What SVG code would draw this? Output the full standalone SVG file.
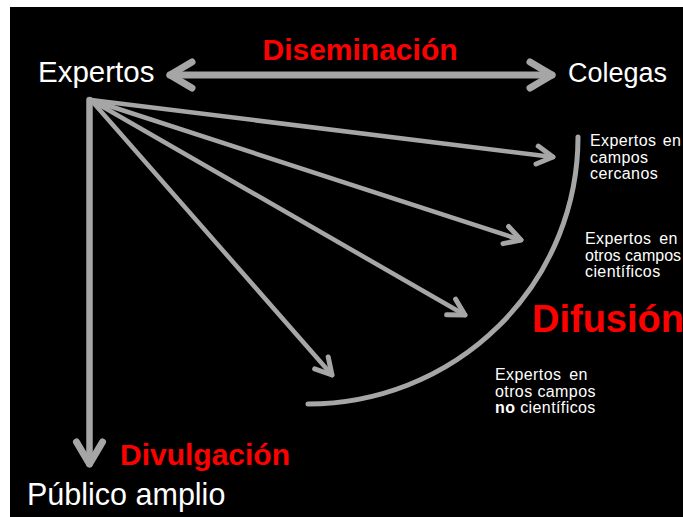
<svg xmlns="http://www.w3.org/2000/svg" width="683" height="517" viewBox="0 0 683 517">
<style>
.w{fill:#ffffff;font-family:"Liberation Sans",Arial,sans-serif}
.r{fill:#ff0000;font-family:"Liberation Sans",Arial,sans-serif;font-weight:bold}
.s{font-size:16px;letter-spacing:0.4px}
.ln{stroke:#a6a6a6;fill:none;stroke-linecap:round}
</style>
<defs>
<marker id="big" markerUnits="userSpaceOnUse" viewBox="-30 -20 40 40" markerWidth="40" markerHeight="40" refX="0" refY="0" orient="auto-start-reverse" overflow="visible">
<path d="M-22,-13 L0,0 L-22,13" fill="none" stroke="#a6a6a6" stroke-width="7" stroke-linecap="round" stroke-linejoin="round"/>
</marker>
<marker id="sm" markerUnits="userSpaceOnUse" viewBox="-30 -20 40 40" markerWidth="40" markerHeight="40" refX="0" refY="0" orient="auto" overflow="visible">
<path d="M-16,-9 L0,0 L-16,9" fill="none" stroke="#a6a6a6" stroke-width="5" stroke-linecap="round" stroke-linejoin="round"/>
</marker>
</defs>
<rect x="0" y="0" width="683" height="517" fill="#ffffff"/>
<rect x="10" y="7" width="673" height="510" fill="#000000"/>
<g id="connectors">
<line class="ln" x1="170" y1="75" x2="552" y2="75" stroke-width="7" marker-start="url(#big)" marker-end="url(#big)"/>
<line class="ln" x1="89.5" y1="100" x2="89.5" y2="464" stroke-width="6.5" marker-end="url(#big)"/>
<line class="ln" x1="91" y1="100" x2="553" y2="157" stroke-width="4.5" marker-end="url(#sm)"/>
<line class="ln" x1="91" y1="100" x2="521" y2="240" stroke-width="4.5" marker-end="url(#sm)"/>
<line class="ln" x1="91" y1="100" x2="465" y2="315" stroke-width="4.5" marker-end="url(#sm)"/>
<line class="ln" x1="91" y1="100" x2="332" y2="375" stroke-width="4.5" marker-end="url(#sm)"/>
<path class="ln" d="M578,137 A270,267 0 0 1 308,404" stroke-width="5" stroke-linecap="butt"/>
</g>
<g id="expertos"><text class="w" x="38" y="82" font-size="29.5">Expertos</text></g>
<g id="colegas"><text class="w" x="568" y="82" font-size="27">Colegas</text></g>
<g id="publico"><text class="w" x="27" y="505" font-size="30.5">Público amplio</text></g>
<g id="diseminacion"><text class="r" x="360" y="60" font-size="30" text-anchor="middle">Diseminación</text></g>
<g id="difusion"><text class="r" x="532" y="332" font-size="38">Difusión</text></g>
<g id="divulgacion"><text class="r" x="120" y="465" font-size="30">Divulgación</text></g>
<g id="cercanos"><text class="w s" x="590"><tspan x="590" y="146" word-spacing="1.5">Expertos en</tspan><tspan x="590" y="162.5">campos</tspan><tspan x="590" y="179">cercanos</tspan></text></g>
<g id="cientificos"><text class="w s" x="585"><tspan x="585" y="244" word-spacing="3">Expertos en</tspan><tspan x="585" y="260.5" letter-spacing="0">otros campos</tspan><tspan x="585" y="277">científicos</tspan></text></g>
<g id="nocientificos"><text class="w s" x="495"><tspan x="495" y="380" word-spacing="3">Expertos en</tspan><tspan x="495" y="396.5">otros campos</tspan><tspan x="495" y="413"><tspan font-weight="bold">no</tspan> científicos</tspan></text></g>
</svg>
